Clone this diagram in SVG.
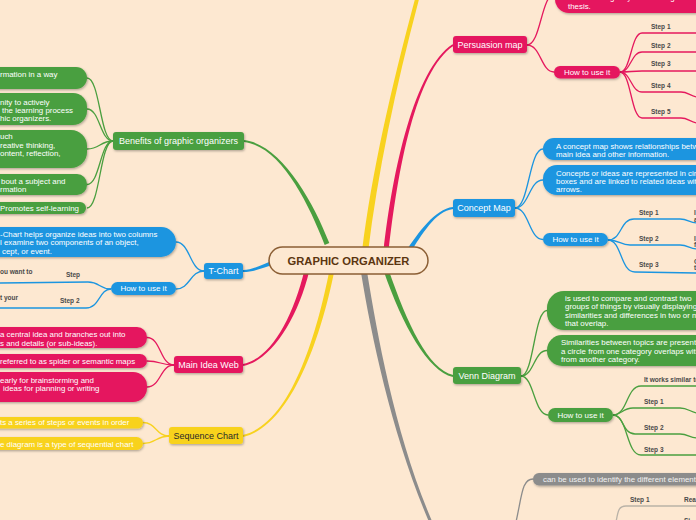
<svg xmlns="http://www.w3.org/2000/svg" width="696" height="520" viewBox="0 0 696 520">
<defs>
<filter id="sh" x="-10%" y="-30%" width="130%" height="180%"><feDropShadow dx="0.8" dy="1.2" stdDeviation="0.8" flood-color="#000" flood-opacity="0.3"/></filter>
<style>
text{font-family:"Liberation Sans",Arial,sans-serif}
.lt{font-size:7.9px;fill:#fff}
.nt{font-size:9px;fill:#fff;text-anchor:middle}
.ht{font-size:8px;fill:#fff;text-anchor:middle}
.st{font-size:6.5px;font-weight:bold;fill:#4a4a4a}
.g{fill:#4a9f3f}.b{fill:#1b95e0}.p{fill:#e5195e}.y{fill:#f8d21f}.k{fill:#8c8c8c}
.cg,.cb,.cp,.cy,.ck,.cs{fill:none;stroke-width:1.3}
.cg{stroke:#4a9f3f}.cb{stroke:#1b95e0}.cp{stroke:#e5195e}.cy{stroke:#f8d21f}.ck{stroke:#8c8c8c}.cs{stroke:#b9b2a7}
</style>
</defs>
<rect width="696" height="520" fill="#fde8d1"/>

<g id="connectors">
<!-- main branches -->
<path class="g" d="M329.3,243.1 C312.3,199.1 280.1,144 244.1,140 L243.9,142 C279.9,146 307.7,200.9 324.7,244.9 Z"/>
<path class="y" d="M368,252.4 C378,170.4 396.9,80.5 421.9,-11.5 L418.1,-12.5 C393.1,79.5 372,169.6 362,251.6 Z"/>
<path class="p" d="M388.5,252.3 C397.5,170.3 415.6,70.8 453.6,45.8 L452.5,44.2 C414.5,69.2 392.5,169.7 383.5,251.7 Z"/>
<path class="b" d="M409.8,253.2 C421.8,235.2 435.1,211 453.1,209 L452.9,207 C434.9,209 418.2,232.8 406.2,250.8 Z"/>
<path class="g" d="M383.6,270.8 C402.6,325.8 427.8,371 452.8,377 L453.2,375 C428.2,369 407.4,324.2 388.4,269.2 Z"/>
<path class="k" d="M361,272.5 C372,340.5 393.6,440.6 430.6,525.6 L433.4,524.4 C396.4,439.4 378,339.5 367,271.5 Z"/>
<path class="b" d="M275,260 C262,264 254,270 243,270 L243,272 C254,272 262,268 275,264 Z"/>
<path class="p" d="M304.6,269.4 C292.6,319.4 269.8,359 242.8,364 L243.2,366 C270.2,361 297.4,320.6 309.4,270.6 Z"/>
<path class="y" d="M329.6,269.5 C315.6,339.5 289.8,424 242.8,435 L243.2,437 C290.2,426 320.4,340.5 334.4,270.5 Z"/>

<!-- benefits -->
<path class="cg" d="M113,141 C100,141 100,78 87,78"/>
<path class="cg" d="M113,141 C100,141 100,109 87,109"/>
<path class="cg" d="M113,141 C100,141 100,149 87,149"/>
<path class="cg" d="M113,141 C100,141 100,184.5 87,184.5"/>
<path class="cg" d="M113,141 C100,141 100,208 87,208"/>
<!-- t-chart -->
<path class="cb" d="M204,271 C190,271 190,242 176,242"/>
<path class="cb" d="M204,271 C190,271 190,289 176,289"/>
<path class="cb" d="M111,289 C99,289 100,282 88,282 L-2,283"/>
<path class="cb" d="M111,289 C99,289 100,308 86,308 L-2,308"/>
<!-- main idea web -->
<path class="cp" d="M174,365 C160,365 161,337.5 147,337.5"/>
<path class="cp" d="M174,365 C160,365 161,361 147,361"/>
<path class="cp" d="M174,365 C160,365 161,387 147,387"/>
<!-- sequence -->
<path class="cy" d="M169,436 C156,436 156,422.5 143,422.5"/>
<path class="cy" d="M169,436 C156,436 156,443.5 143,443.5"/>
<!-- persuasion -->
<path class="cp" d="M527,45 C541,45 541,-6 555,-6"/>
<path class="cp" d="M527,45 C541,45 541,72 554,72"/>
<path class="cp" d="M620,72 C631,72 631,33 642,33 L696,33"/>
<path class="cp" d="M620,72 C631,72 631,52 642,52 L696,52"/>
<path class="cp" d="M620,72 C631,72 631,71 642,71 L696,71"/>
<path class="cp" d="M620,72 C631,72 631,92 642,92 L681,92 C688,92 690,96 697,97"/>
<path class="cp" d="M620,72 C631,72 631,118 642,118 L681,118 C688,118 690,122 697,123"/>
<!-- concept -->
<path class="cb" d="M515,208 C529,208 529,149 543,149"/>
<path class="cb" d="M515,208 C529,208 529,180 543,180"/>
<path class="cb" d="M515,208 C529,208 529,239.5 543,239.5"/>
<path class="cb" d="M608,240 C622,240 620,219 634,219 L680,219 C688,219 690,223 697,223"/>
<path class="cb" d="M608,240 C620,240 620,245 630,245 L680,245 C688,245 690,249 697,249"/>
<path class="cb" d="M608,240 C622,240 620,272 635,272 L697,273"/>
<!-- venn -->
<path class="cg" d="M521,376 C534,376 534,310.5 547,310.5"/>
<path class="cg" d="M521,376 C534,376 534,350.5 547,350.5"/>
<path class="cg" d="M521,376 C534,376 534,415 548,415"/>
<path class="cg" d="M613,415 C628,415 626,386 641,386 L697,386"/>
<path class="cg" d="M613,415 C622,415 622,408 633,408 L680,408 C688,408 690,412 697,413"/>
<path class="cg" d="M613,415 C624,415 622,434 635,434 L680,434 C688,434 690,438 697,438"/>
<path class="cg" d="M613,415 C628,415 626,455 641,455 L697,455"/>
<!-- gray -->
<path class="ck" d="M516,522 C522,495 522,479 533,479"/>
<path class="cs" d="M616,522 C618,512 618,506 626,506 L697,506"/>
</g>

<g id="center">
<rect x="269" y="247" width="159" height="27" rx="13.5" fill="#fde8d1" stroke="#8b5e34" stroke-width="1.5"/>
<text x="348.5" y="265" font-size="11.2" font-weight="bold" fill="#5b3510" text-anchor="middle">GRAPHIC ORGANIZER</text>
</g>

<!-- Benefits -->
<g id="benefits">
<rect class="g" x="113" y="132" width="131" height="18" rx="3" filter="url(#sh)"/>
<text class="nt" x="178.5" y="144.2">Benefits of graphic organizers</text>
</g>
<g id="ben1"><rect class="g" x="-40" y="67" width="127" height="22" rx="11" filter="url(#sh)"/>
<text class="lt" x="0" y="77.3">rmation in a way</text></g>
<g id="ben2"><rect class="g" x="-40" y="93" width="127" height="32" rx="14" filter="url(#sh)"/>
<text class="lt" x="0" y="104.5">nity to actively</text><text class="lt" x="2" y="112.8">the learning process</text><text class="lt" x="0" y="121.3">hic organizers.</text></g>
<g id="ben3"><rect class="g" x="-40" y="130" width="127" height="38" rx="16" filter="url(#sh)"/>
<text class="lt" x="0" y="138.8">uch</text><text class="lt" x="0" y="147.6">reative thinking,</text><text class="lt" x="0" y="156.4">ontent, reflection,</text></g>
<g id="ben4"><rect class="g" x="-40" y="174" width="127" height="21" rx="10" filter="url(#sh)"/>
<text class="lt" x="1" y="183.5">bout a subject and</text><text class="lt" x="0" y="192">rmation</text></g>
<g id="ben5"><rect class="g" x="-40" y="202" width="126" height="12" rx="6" filter="url(#sh)"/>
<text class="lt" x="0" y="210.6">Promotes self-learning</text></g>

<!-- T-Chart -->
<g id="tchart"><rect class="b" x="204" y="263" width="39" height="16" rx="3" filter="url(#sh)"/>
<text class="nt" x="223.5" y="274.2">T-Chart</text></g>
<g id="tchart-leaf"><rect class="b" x="-40" y="227" width="216" height="30" rx="15" filter="url(#sh)"/>
<text class="lt" x="0" y="237">-Chart helps organize ideas into two columns</text>
<text class="lt" x="0" y="245.4">l examine two components of an object,</text>
<text class="lt" x="2" y="253.7">cept, or event.</text></g>
<g id="tchart-how"><rect class="b" x="111" y="282" width="65" height="13" rx="6.5" filter="url(#sh)"/>
<text class="ht" x="143.5" y="291.4">How to use it</text></g>
<g id="tchart-steps">
<text class="st" x="66" y="277.3">Step</text>
<text class="st" x="60" y="303">Step 2</text>
<text class="st" x="0" y="273.5">ou want to</text>
<text class="st" x="0" y="299.5">t your</text></g>

<!-- Main Idea Web -->
<g id="mainidea"><rect class="p" x="174" y="356" width="69" height="17" rx="3" filter="url(#sh)"/>
<text class="nt" x="208.5" y="367.6">Main Idea Web</text></g>
<g id="mi1"><rect class="p" x="-40" y="327" width="187" height="21" rx="10" filter="url(#sh)"/>
<text class="lt" x="0" y="336.8">a central idea and branches out into</text><text class="lt" x="0" y="345.5">s and details (or sub-ideas).</text></g>
<g id="mi2"><rect class="p" x="-40" y="354" width="187" height="14" rx="7" filter="url(#sh)"/>
<text class="lt" x="0" y="363.9">referred to as spider or semantic maps</text></g>
<g id="mi3"><rect class="p" x="-40" y="372" width="187" height="30" rx="14" filter="url(#sh)"/>
<text class="lt" x="0" y="382.8">early for brainstorming and</text><text class="lt" x="3" y="391">ideas for planning or writing</text></g>

<!-- Sequence Chart -->
<g id="sequence"><rect class="y" x="169" y="427" width="74" height="17" rx="3" filter="url(#sh)"/>
<text class="nt" x="206" y="438.6" style="fill:#2a2a2a">Sequence Chart</text></g>
<g id="seq1"><rect class="y" x="-40" y="417" width="183" height="11.5" rx="5.5" filter="url(#sh)"/>
<text class="lt" x="0" y="425.3">ts a series of steps or events in order</text></g>
<g id="seq2"><rect class="y" x="-40" y="437" width="183" height="13" rx="6.5" filter="url(#sh)"/>
<text class="lt" x="0" y="447">e diagram is a type of sequential chart</text></g>

<!-- Persuasion map -->
<g id="persuasion"><rect class="p" x="453" y="36" width="74" height="17" rx="3" filter="url(#sh)"/>
<text class="nt" x="490" y="47.6">Persuasion map</text></g>
<g id="pers-leaf"><rect class="p" x="555" y="-25" width="190" height="38" rx="14" filter="url(#sh)"/>
<text class="lt" x="568" y="0.3">Students begin by determining their</text><text class="lt" x="568" y="8.6">thesis.</text></g>
<g id="pers-how"><rect class="p" x="554" y="66" width="66" height="12.5" rx="6" filter="url(#sh)"/>
<text class="ht" x="587" y="75">How to use it</text></g>
<g id="pers-steps">
<text class="st" x="651" y="29">Step 1</text>
<text class="st" x="651" y="48.3">Step 2</text>
<text class="st" x="651" y="65.6">Step 3</text>
<text class="st" x="651" y="88.3">Step 4</text>
<text class="st" x="651" y="114">Step 5</text></g>

<!-- Concept Map -->
<g id="concept"><rect class="b" x="453" y="199" width="62" height="18" rx="3" filter="url(#sh)"/>
<text class="nt" x="484" y="211.2">Concept Map</text></g>
<g id="cm1"><rect class="b" x="543" y="138" width="200" height="22" rx="11" filter="url(#sh)"/>
<text class="lt" x="556" y="148.5">A concept map shows relationships between</text><text class="lt" x="556" y="156.8">main idea and other information.</text></g>
<g id="cm2"><rect class="b" x="543" y="165" width="200" height="30" rx="14" filter="url(#sh)"/>
<text class="lt" x="556" y="175.5">Concepts or ideas are represented in circles or</text><text class="lt" x="556" y="183.8">boxes and are linked to related ideas with</text><text class="lt" x="556" y="192.3">arrows.</text></g>
<g id="cm-how"><rect class="b" x="543" y="233" width="65" height="13" rx="6.5" filter="url(#sh)"/>
<text class="ht" x="575.5" y="242.4">How to use it</text></g>
<g id="cm-steps">
<text class="st" x="639" y="215">Step 1</text>
<text class="st" x="639" y="241.3">Step 2</text>
<text class="st" x="639" y="267.3">Step 3</text>
<text class="st" x="694" y="215">I</text><text class="st" x="694" y="221.5">a</text>
<text class="st" x="694" y="240.5">I</text><text class="st" x="694" y="246.5">f</text>
<text class="st" x="694" y="263.5">C</text><text class="st" x="694" y="270">t</text></g>

<!-- Venn Diagram -->
<g id="venn"><rect class="g" x="453" y="367" width="68" height="17" rx="3" filter="url(#sh)"/>
<text class="nt" x="487" y="378.6">Venn Diagram</text></g>
<g id="vd1"><rect class="g" x="547" y="291" width="200" height="39" rx="17" filter="url(#sh)"/>
<text class="lt" x="565" y="301">is used to compare and contrast two</text><text class="lt" x="565" y="309.4">groups of things by visually displaying</text><text class="lt" x="565" y="317.8">similarities and differences in two or more</text><text class="lt" x="565" y="326">that overlap.</text></g>
<g id="vd2"><rect class="g" x="547" y="335" width="200" height="31" rx="15" filter="url(#sh)"/>
<text class="lt" x="561" y="345">Similarities between topics are presented when</text><text class="lt" x="561" y="353.5">a circle from one category overlaps with</text><text class="lt" x="561" y="362">from another category.</text></g>
<g id="vd-how"><rect class="g" x="548" y="408" width="65" height="14" rx="7" filter="url(#sh)"/>
<text class="ht" x="580.5" y="417.9">How to use it</text></g>
<g id="vd-steps">
<text class="st" x="644" y="382.3">It works similar to</text>
<text class="st" x="644" y="404.3">Step 1</text>
<text class="st" x="644" y="430">Step 2</text>
<text class="st" x="644" y="452.3">Step 3</text></g>

<!-- gray branch -->
<g id="gray-leaf"><rect class="k" x="533" y="473" width="210" height="12.5" rx="6" filter="url(#sh)"/>
<text class="lt" x="543" y="481.9" style="fill:#f2f2f2">can be used to identify the different elements</text></g>
<g id="gray-steps">
<text class="st" x="630" y="502.3">Step 1</text>
<text class="st" x="684" y="502.3">Rea</text>
<text class="st" x="684" y="523">Si</text></g>
</svg>
